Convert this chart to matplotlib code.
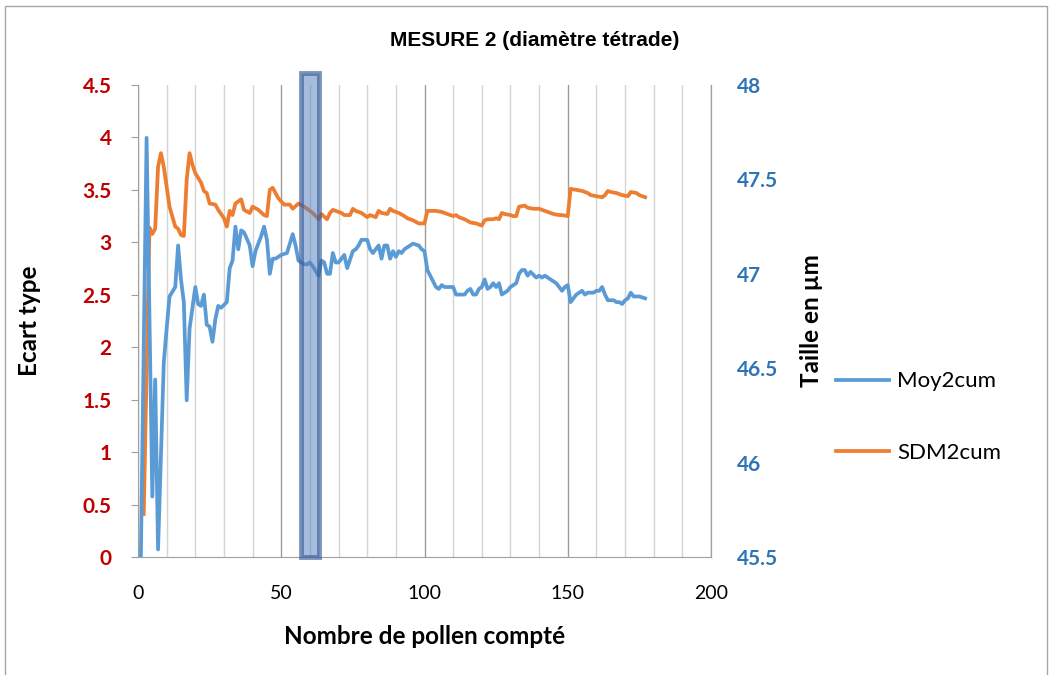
import matplotlib
matplotlib.use("Agg")
import matplotlib.pyplot as plt
from matplotlib.patches import Rectangle
from matplotlib.ticker import MultipleLocator
import matplotlib.transforms as mtransforms

plt.rcParams['font.family'] = ['Lato', 'DejaVu Sans']

# Moy2cum (axe de droite, taille en µm)
n_moy = [1, 3, 5, 6, 7, 9, 10, 11, 13, 14, 15, 16, 17, 18, 20, 21, 22, 23, 24, 25,
         26, 27, 28, 29, 31, 32, 33, 34, 35, 36, 37, 39, 40, 41, 43, 44, 45, 46, 47, 48,
         50, 52, 54, 55, 56, 58, 59, 60, 61, 63, 64, 65, 66, 67, 68, 69, 70, 71, 72, 73,
         75, 76, 77, 78, 80, 81, 82, 83, 84, 85, 86, 87, 88, 89, 90, 91, 92, 93, 95, 96,
         98, 99, 100, 101, 102, 103, 104, 105, 106, 107, 109, 110, 111, 112, 114, 115, 116, 117, 118, 119,
         120, 121, 122, 123, 124, 125, 126, 127, 128, 129, 130, 131, 132, 133, 134, 135, 136, 137, 139, 140,
         141, 142, 143, 144, 146, 147, 148, 149, 150, 151, 152, 153, 154, 155, 156, 157, 159, 160, 161, 162,
         163, 164, 165, 166, 167, 168, 169, 170, 171, 172, 173, 174, 175, 177]
moy2cum = [45.50, 47.72, 45.82, 46.44, 45.54, 46.53, 46.71, 46.88, 46.93, 47.15, 46.97, 46.85, 46.33, 46.71, 46.93, 46.84, 46.83, 46.89, 46.73, 46.72,
           46.64, 46.76, 46.83, 46.82, 46.85, 47.03, 47.07, 47.25, 47.13, 47.23, 47.22, 47.15, 47.04, 47.12, 47.20, 47.25, 47.18, 47.00, 47.08, 47.08,
           47.10, 47.11, 47.21, 47.15, 47.07, 47.05, 47.05, 47.06, 47.04, 46.99, 47.07, 47.06, 47.00, 47.00, 47.11, 47.06, 47.06, 47.08, 47.10, 47.03,
           47.12, 47.13, 47.15, 47.18, 47.18, 47.13, 47.11, 47.13, 47.15, 47.08, 47.15, 47.15, 47.08, 47.12, 47.09, 47.12, 47.11, 47.13, 47.15, 47.16,
           47.15, 47.13, 47.12, 47.02, 46.99, 46.96, 46.93, 46.92, 46.94, 46.93, 46.93, 46.93, 46.89, 46.89, 46.89, 46.91, 46.92, 46.89, 46.89, 46.92,
           46.93, 46.97, 46.92, 46.93, 46.95, 46.93, 46.95, 46.89, 46.90, 46.91, 46.93, 46.94, 46.95, 47.00, 47.02, 47.02, 46.99, 47.01, 46.98, 46.99,
           46.98, 46.99, 46.98, 46.97, 46.95, 46.93, 46.91, 46.93, 46.94, 46.85, 46.87, 46.89, 46.90, 46.91, 46.89, 46.90, 46.90, 46.91, 46.91, 46.93,
           46.89, 46.86, 46.86, 46.86, 46.85, 46.85, 46.84, 46.86, 46.87, 46.90, 46.88, 46.88, 46.88, 46.87]

# SDM2cum (axe de gauche, écart type)
n_sdm = [2, 4, 5, 6, 7, 8, 9, 10, 11, 13, 14, 15, 16, 17, 18, 19, 20, 22, 23, 24,
         25, 27, 28, 30, 31, 32, 33, 34, 36, 37, 39, 40, 42, 44, 45, 46, 47, 49, 51, 53,
         54, 56, 58, 61, 63, 64, 66, 67, 68, 69, 71, 72, 74, 75, 76, 78, 79, 80, 81, 83,
         84, 85, 87, 88, 89, 91, 93, 94, 96, 98, 99, 100, 101, 103, 104, 106, 108, 110, 111, 112,
         114, 116, 118, 120, 121, 122, 124, 125, 126, 127, 128, 130, 131, 132, 133, 135, 136, 138, 140, 142,
         143, 145, 147, 148, 150, 151, 153, 155, 157, 158, 160, 162, 163, 164, 165, 167, 169, 171, 172, 174,
         175, 177]
sdm2cum = [0.41, 3.14, 3.08, 3.13, 3.72, 3.85, 3.72, 3.53, 3.34, 3.15, 3.13, 3.07, 3.06, 3.60, 3.85, 3.74, 3.66, 3.57, 3.49, 3.47,
           3.37, 3.36, 3.31, 3.23, 3.15, 3.30, 3.26, 3.37, 3.41, 3.31, 3.28, 3.34, 3.31, 3.26, 3.25, 3.50, 3.52, 3.42, 3.36, 3.36,
           3.32, 3.37, 3.34, 3.28, 3.22, 3.27, 3.22, 3.28, 3.31, 3.30, 3.28, 3.26, 3.26, 3.32, 3.30, 3.28, 3.26, 3.24, 3.26, 3.24,
           3.30, 3.28, 3.27, 3.32, 3.30, 3.28, 3.25, 3.23, 3.21, 3.18, 3.18, 3.18, 3.30, 3.30, 3.30, 3.29, 3.27, 3.25, 3.26, 3.24,
           3.22, 3.19, 3.18, 3.16, 3.21, 3.22, 3.22, 3.23, 3.22, 3.28, 3.27, 3.26, 3.25, 3.25, 3.34, 3.35, 3.33, 3.32, 3.32, 3.30,
           3.29, 3.27, 3.26, 3.26, 3.25, 3.51, 3.50, 3.49, 3.47, 3.45, 3.44, 3.43, 3.45, 3.49, 3.48, 3.47, 3.45, 3.44, 3.48, 3.47,
           3.45, 3.43]

# zone surlignée (nombre de pollen)
zone = (56.8, 63.2)

BLEU = "#5B9BD5"
ORANGE = "#ED7D31"

fig = plt.figure(figsize=(10.52, 6.75), dpi=100)
ax = fig.add_axes([138 / 1052, 1 - 557 / 675, 573 / 1052, 472 / 675])
ax2 = ax.twinx()

ax.plot(n_sdm, sdm2cum, color=ORANGE, lw=2.7, solid_joinstyle="round", label="SDM2cum")
ax2.plot(n_moy, moy2cum, color=BLEU, lw=2.7, solid_joinstyle="round", label="Moy2cum")

ax.set_xlim(0, 200)
ax.set_ylim(0, 4.5)
ax2.set_ylim(45.5, 48)
ax.xaxis.set_major_locator(MultipleLocator(50))
ax.xaxis.set_minor_locator(MultipleLocator(10))
ax.set_yticks([0, 0.5, 1, 1.5, 2, 2.5, 3, 3.5, 4, 4.5])
ax.set_yticklabels(["0", "0.5", "1", "1.5", "2", "2.5", "3", "3.5", "4", "4.5"])
ax2.set_yticks([45.5, 46, 46.5, 47, 47.5, 48])
ax2.set_yticklabels(["45.5", "46", "46.5", "47", "47.5", "48"])

ax.grid(True, which="minor", axis="x", color="#D4D4D4", lw=1)
ax.grid(True, which="major", axis="x", color="#9C9C9C", lw=1)
ax.set_axisbelow(True)

for a in (ax, ax2):
    a.spines["top"].set_visible(False)
    for s in ("left", "right", "bottom"):
        a.spines[s].set_color("#A0A0A0")
ax2.spines["left"].set_visible(False)
ax2.spines["bottom"].set_visible(False)

ax.tick_params(axis="x", which="both", length=0, pad=20, labelsize=14)
ax.tick_params(axis="y", length=5, color="#A0A0A0", pad=14, labelsize=15, labelcolor="#C00000")
ax2.tick_params(axis="y", length=0, pad=19, labelsize=15, labelcolor="#2E75B6")
for lab in ax.get_yticklabels() + ax2.get_yticklabels():
    lab.set_fontweight("bold")

ax.set_xlabel("Nombre de pollen compté", fontsize=17.5, fontweight="bold")
ax.xaxis.set_label_coords(0.5, -0.145)
ax.set_ylabel("Ecart type", fontsize=17.5, fontweight="bold")
ax.yaxis.set_label_coords(-0.17, 0.5)
ax2.set_ylabel("Taille en µm", fontsize=17.5, fontweight="bold")
ax2.yaxis.set_label_coords(1.155, 0.5)

fig.text(535 / 1052, 1 - 40 / 675, "MESURE 2 (diamètre tétrade)", ha="center", va="center",
         fontsize=15, fontweight="bold", family=["Liberation Sans", "DejaVu Sans"])

# rectangle surligné
trans = mtransforms.blended_transform_factory(ax.transData, ax.transAxes)
rect = Rectangle((zone[0], 0), zone[1] - zone[0], 1.025, transform=trans,
                 facecolor=(0.33, 0.50, 0.75, 0.52), edgecolor=(0.22, 0.36, 0.60, 0.65),
                 lw=3.5, clip_on=False, zorder=10)
ax2.add_patch(rect)

h1, l1 = ax2.get_legend_handles_labels()
h2, l2 = ax.get_legend_handles_labels()
fig.legend(h1 + h2, l1 + l2, loc="center left", bbox_to_anchor=(816 / 1052, 1 - 417 / 675),
           frameon=False, fontsize=16, handlelength=2.4, handletextpad=0.35, labelspacing=2.3)

# cadre du graphique
fig.patches.append(Rectangle((5 / 1052, -0.01), 1042 / 1052, 1 - 6 / 675 + 0.01,
                             transform=fig.transFigure, fill=False, edgecolor="#A6A6A6", lw=1))

fig.savefig("out.png", dpi=100)
